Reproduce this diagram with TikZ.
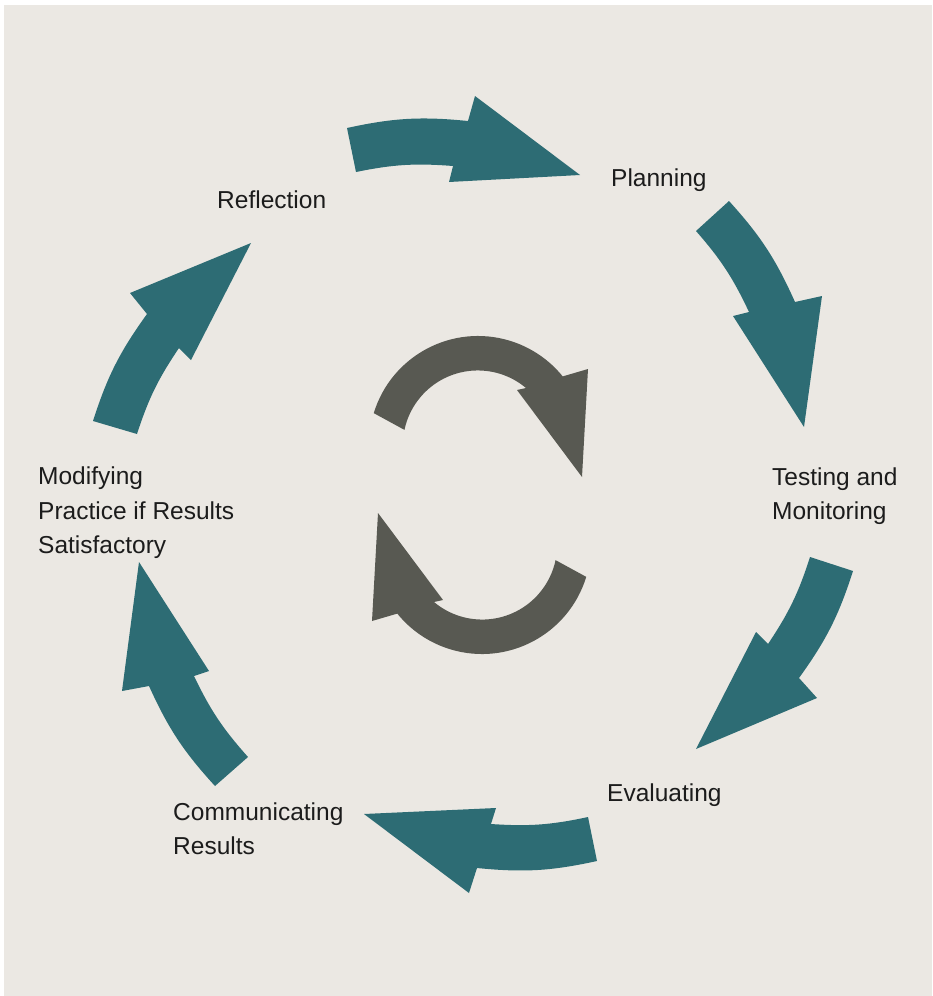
\documentclass[tikz,border=0pt]{standalone}
\usepackage{fontspec}
\setmainfont{Liberation Sans}
\definecolor{paper}{HTML}{EBE8E3}
\definecolor{cycleteal}{HTML}{2D6C74}
\definecolor{loopgrey}{HTML}{585952}
\definecolor{labelink}{HTML}{1C1C1C}
\begin{document}
\begin{tikzpicture}[x=1pt,y=1pt]

        \useasboundingbox (0,0) rectangle (932,-996);
        \fill[paper] (4,-5) rectangle (932,-996);
        \coordinate (hub) at (480,-495);

        % labels sit on the baseline of their last line
        \begin{scope}[every node/.style={anchor=base west,inner sep=0pt,align=left,
            text=labelink,font=\fontsize{24.5}{34.5}\selectfont}]
          \node (planning)   at (611,-186)   {Planning};
          \node (testing)    at (772,-519.5) {Testing and\\Monitoring};
          \node (evaluating) at (607,-801)   {Evaluating};
          \node (communic)   at (173,-854.5) {Communicating\\Results};
          \node (modifying)  at (38,-553.5)  {Modifying\\Practice if Results\\Satisfactory};
          \node (reflection) at (217,-208)   {Reflection};
        \end{scope}

        \begin{scope}[fill=cycleteal]
          \fill (347,-128) to[bend left=9] (468,-121) -- (475,-96) -- (580,-175)
            -- (449,-182) -- (453,-166) to[bend right=8] (356,-172) -- cycle;
          \fill (729,-201) to[bend left=9] (795,-302) -- (822,-296) -- (804,-427)
            -- (733,-316) -- (749,-312) to[bend right=8] (696,-231) -- cycle;
          \fill (853,-571) to[bend left=9] (799,-678) -- (817,-698) -- (696,-749)
            -- (756,-632) -- (768,-644) to[bend right=8] (810,-557) -- cycle;
          \fill (597,-861) to[bend left=9] (477,-868) -- (469,-893) -- (364,-814)
            -- (496,-808) -- (491,-824) to[bend right=8] (588,-817) -- cycle;
          \fill (215,-786) to[bend left=9] (149,-686) -- (122,-691) -- (139,-562)
            -- (209,-671) -- (194,-676) to[bend right=8] (248,-757) -- cycle;
          \fill (93,-421) to[bend left=9] (147,-314) -- (130,-293) -- (251,-243)
            -- (191,-360) -- (179,-348) to[bend right=8] (137,-434) -- cycle;
        \end{scope}

        \begin{scope}[fill=loopgrey]
          \fill (478,-445) ++(163:109) arc[start angle=163,end angle=39,radius=109]
            -- (588,-369) -- (582,-477) -- (517,-390) -- (526,-388)
            arc[start angle=50,end angle=168,radius=75] -- cycle;
          %\fill lower one as half turn of the upper one
          \begin{scope}[rotate around={180:(hub)}]
            \fill (478,-445) ++(163:109) arc[start angle=163,end angle=39,radius=109]
              -- (588,-369) -- (582,-477) -- (517,-390) -- (526,-388)
              arc[start angle=50,end angle=168,radius=75] -- cycle;
          \end{scope}
        \end{scope}

      \end{tikzpicture}
\end{document}
